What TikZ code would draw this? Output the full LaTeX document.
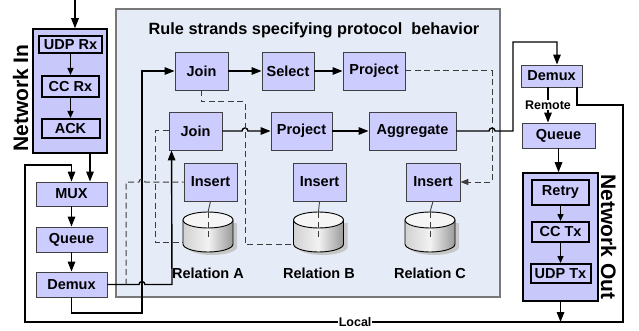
\documentclass[tikz,border=0pt]{standalone}
\usepackage{fontspec}
\setmainfont{Liberation Sans}
\usetikzlibrary{arrows.meta,calc}

\definecolor{boxfill}{RGB}{204,204,255}
\definecolor{groupfill}{RGB}{200,200,250}
\definecolor{panelfill}{RGB}{230,236,247}
\definecolor{panelline}{RGB}{120,120,120}
\definecolor{dashcol}{RGB}{60,60,60}

\newcommand{\fs}[1]{\bfseries\fontsize{#1}{#1}\selectfont}

\begin{document}
\begin{tikzpicture}[x=1pt,y=-1pt,
  box/.style={draw=black!75, line width=0.9pt, fill=boxfill, inner sep=0pt,
    font=\fs{14.5}},
  inbox/.style={draw=black, line width=2pt, fill=boxfill, inner sep=0pt,
    font=\fs{14.5}},
  group/.style={draw=black, line width=1.5pt, fill=groupfill, inner sep=0pt},
  sz/.style 2 args={minimum width=#1pt, minimum height=#2pt},
  arr/.style={line width=1.4pt, -{Triangle[length=10pt,width=7.5pt]}},
  sarr/.style={line width=1.4pt, -{Triangle[length=7pt,width=6pt]}},
  dsh/.style={dashcol, line width=1pt, dash pattern=on 6pt off 3.5pt},
  dsharr/.style={dsh, -{Triangle[length=8pt,width=6pt]}},
  lbl/.style={font=\fs{14.5}, inner sep=0pt},
  pics/relcyl/.style={code={
    % soft shadow under the drum
    \fill[black!22] (-21,3) -- (-21,27)
      arc[start angle=180,end angle=360,x radius=25pt,y radius=8pt]
      -- (29,3) -- cycle;
    % drum body
    \shade[left color=black!18, right color=black!40, middle color=white!95!black,
      draw=black, line width=0.9pt]
      (-25,0) -- (-25,24)
      arc[start angle=180,end angle=360,x radius=25pt,y radius=8pt]
      -- (25,0) -- cycle;
    % drum lid
    \draw[line width=0.9pt, fill=white!96!black] (0,0) ellipse[x radius=25pt, y radius=8pt];
    \coordinate (-top) at (0,-8);
    \coordinate (-mid) at (0,18);
    \coordinate (-left) at (-25,23);
  }}
]
\useasboundingbox (0,0) rectangle (639,331);

% ---------- rule panel ----------
\node[draw=panelline, line width=1.5pt, fill=panelfill, inner sep=0pt,
  minimum width=384pt, minimum height=288pt] (panel) at (308,153) {};
\node[font=\fs{16.3}, inner sep=0pt] (title) at (314,30)
  {Rule strands specifying protocol\ \ behavior};

% ---------- network in ----------
\node[group, sz={74}{124}] (netin) at (70,91) {};
\node[inbox, sz={63}{17}] (udprx) at (70.5,44.5) {UDP Rx};
\node[inbox, sz={57}{21}] (ccrx) at (70.5,86.5) {CC Rx};
\node[inbox, sz={58}{19}] (ack) at (70.5,128.5) {ACK};
\node[font=\fs{21}, rotate=90, inner sep=0pt] (netinlbl) at (20.5,98) {Network In};

% ---------- local pipeline ----------
\node[box, sz={71}{24}] (mux) at (71.5,194) {MUX};
\node[box, sz={71}{25}] (queueL) at (71.5,239.5) {Queue};
\node[box, sz={71}{25}] (demuxL) at (71.5,284.5) {Demux};

% ---------- rule strands ----------
\node[box, sz={53}{38}] (join1) at (201.5,71) {Join};
\node[box, sz={52}{38}] (select) at (288,71) {Select};
\node[box, sz={62}{38}] (project1) at (374,71) {Project};

\node[box, sz={53}{38}] (join2) at (195.5,131) {Join};
\node[box, sz={61}{38}] (project2) at (301.5,131) {Project};
\node[box, sz={87}{38}] (aggregate) at (412.5,131) {Aggregate};

\node[box, sz={53}{38}] (insertA) at (210.5,182) {Insert};
\node[box, sz={53}{38}] (insertB) at (319.5,182) {Insert};
\node[box, sz={54}{38}] (insertC) at (433,182) {Insert};

\pic (cylA) at (208,220) {relcyl};
\pic (cylB) at (318.5,220) {relcyl};
\pic (cylC) at (430,220) {relcyl};

\node[lbl] (relA) at (208,273) {Relation A};
\node[lbl] (relB) at (319,273) {Relation B};
\node[lbl] (relC) at (430,273) {Relation C};

% ---------- remote side ----------
\node[box, sz={61}{22}] (demuxR) at (551.5,76) {Demux};
\node[box, sz={73}{25}] (queueR) at (558.5,135.5) {Queue};
\node[group, sz={75}{128}] (netout) at (560.5,237) {};
\node[inbox, sz={57}{25}] (retry) at (560.5,192.5) {Retry};
\node[inbox, sz={57}{20}] (cctx) at (560.5,232) {CC Tx};
\node[inbox, sz={60}{19}] (udptx) at (560.5,273.5) {UDP Tx};
\node[font=\fs{21}, rotate=-90, inner sep=0pt] (netoutlbl) at (608.5,237) {Network Out};

% ---------- free ends ----------
\coordinate (wire) at (75,0);
\coordinate (tap) at (126,284.5);
\coordinate (outEnd) at (560.5,322);

% ---------- network in flow ----------
\draw[arr] (wire) -- (wire |- netin.north);
\draw[sarr] (udprx) -- (ccrx);
\draw[sarr] (ccrx) -- (ack);
\draw[arr] ($(netin.south)+(20,0)$) -- ($(mux.north)+(18.5,0)$);
\draw[arr] (mux) -- (queueL);
\draw[arr] (queueL) -- (demuxL);

% demux to the second join, hopping the riser
\draw[arr] (demuxL.east) -- (139,284.5) arc[start angle=180,end angle=0,radius=3pt]
  -- (172,284.5) -- ($(join2.south west)+(3,0)$);
% demux to the first join
\draw[arr] (demuxL.south) -- (71.5,313) -- (142,313) -- (142,71) -- (join1.west);

% strand arrows
\draw[arr] (join1) -- (select);
\draw[arr] (select) -- (project1);
\draw[arr] (join2.east) -- (242,131) arc[start angle=180,end angle=0,radius=3pt]
  -- (project2.west);
\draw[arr] (project2) -- (aggregate);

% relation feeds
\draw[dsh] (join1.south) -- (201.5,102) -- (245,102) -- (245,244) -- (cylB-left |- 0,244);
\draw[dsh] (join2.west) -- (155,131) -- (155,242) -- (cylA-left |- 0,242);
\draw[dsharr] (project1.east) -- (492,71) -- (492,182) -- (insertC.east);
\draw[dsh] (tap) -- (126,182) -- (139,182) arc[start angle=180,end angle=0,radius=3pt]
  -- (insertA.west);

% inserts into relations
\foreach \ins/\cyl in {insertA/cylA, insertB/cylB, insertC/cylC}{
  \draw[line width=0.9pt, black!75] (\ins.south) -- (\cyl-top);
  \draw[dsh] (\cyl-top) -- (\cyl-mid);
}

% aggregate out to the remote demux
\draw[arr] (aggregate.east) -- (489,131) arc[start angle=180,end angle=0,radius=3pt]
  -- (513,131) -- (513,42) -- (557,42) -- ($(demuxR.north)+(5.5,0)$);
\draw[arr] ($(demuxR.south)+(-3.5,0)$) --
  node[fill=white, font=\fs{12.5}, inner sep=1pt] (remote) {Remote}
  ($(queueR.north)+(-10.5,0)$);
\draw[arr] (queueR.south) -- (queueR.south |- netout.north);
\draw[sarr] (retry) -- (cctx);
\draw[sarr] (cctx) -- (udptx);
\draw[arr] (netout.south) -- (outEnd);

% local loop back to the mux
\draw[arr] ($(demuxR.south)+(25.5,0)$) -- (577,105) -- (623,105) -- (623,322)
  -- node[pos=0.448, fill=white, font=\fs{12.5}, inner sep=1pt] (local) {Local}
  (25,322) -- (25,165) -- (71.5,165) -- (mux.north);
\end{tikzpicture}
\end{document}
